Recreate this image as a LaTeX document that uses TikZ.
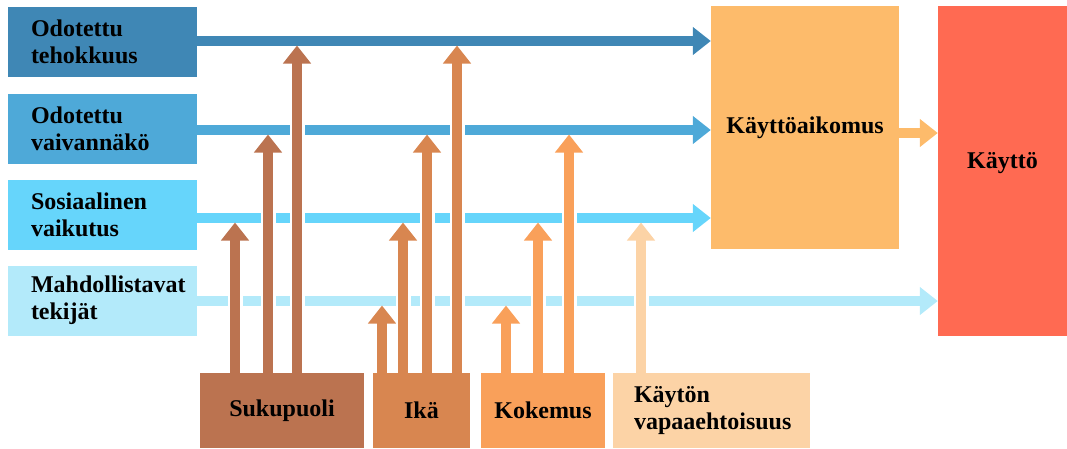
\documentclass[tikz,border=0pt]{standalone}
\usepackage{fontspec}
\setmainfont{Liberation Serif}
\usetikzlibrary{arrows.meta}
\definecolor{tehoc}{HTML}{3F87B5}
\definecolor{vaivac}{HTML}{4EA9D8}
\definecolor{sosc}{HTML}{66D5FB}
\definecolor{mahdc}{HTML}{B3EAFA}
\definecolor{sukuc}{HTML}{BB7350}
\definecolor{ikac}{HTML}{D88650}
\definecolor{kokc}{HTML}{F9A05A}
\definecolor{vapc}{HTML}{FCD3A6}
\definecolor{aikc}{HTML}{FDBB6B}
\definecolor{kayc}{HTML}{FF6A52}
\hfuzz=40pt

\begin{document}
\begin{tikzpicture}[x=1pt, y=-1pt]
  \tikzstyle{box} = [inner sep=0pt, font=\fontsize{24}{27}\selectfont\bfseries]
  \tikzstyle{leftbox} = [box, text width=143pt, inner xsep=23pt, minimum height=70pt, align=left]
  \tikzstyle{botbox} = [box, minimum height=75pt]
  \tikzstyle{harrow} = [line width=9.5pt, -{Triangle[width=27pt, length=18pt]}]
  \tikzstyle{varrow} = [line width=9.5pt, -{Triangle[width=27pt, length=18pt]}, shorten >=4.5pt,
    preaction={draw=white, line width=15pt, -}]
  \useasboundingbox (0,0) rectangle (1067,448);

  \node[leftbox, fill=tehoc] (teho) at (102.5, 42) {Odotettu\\tehokkuus};
  \node[leftbox, fill=vaivac] (vaiva) at (102.5, 129) {Odotettu\\vaivannäkö};
  \node[leftbox, fill=sosc] (sos) at (102.5, 214.5) {Sosiaalinen\\vaikutus};
  \node[leftbox, fill=mahdc] (mahd) at (102.5, 300.5) {Mahdollistavat\\tekijät};

  \node[box, fill=aikc, minimum width=188pt, minimum height=243pt] (aik) at (805, 127.5) {Käyttöaikomus};
  \node[box, fill=kayc, minimum width=129pt, minimum height=330pt, text depth=22pt] (kay) at (1002.5, 171) {Käyttö};

  \node[botbox, fill=sukuc, minimum width=164pt] (suku) at (282, 410.5) {Sukupuoli};
  \node[botbox, fill=ikac, minimum width=97pt] (ika) at (421.5, 410.5) {Ikä};
  \node[botbox, fill=kokc, minimum width=124pt] (kok) at (543, 410.5) {Kokemus};
  \node[botbox, fill=vapc, text width=155pt, inner xsep=21pt, align=left] (vap) at (711.5, 410.5) {Käytön\\vapaaehtoisuus};

  \coordinate (r1) at (0, 41);
  \coordinate (r2) at (0, 130);
  \coordinate (r3) at (0, 218);
  \coordinate (r4) at (0, 301);
  \coordinate (r5) at (0, 133);

  % horizontal arrows
  \draw[harrow, tehoc] (teho.east |- r1) -- (aik.west |- r1);
  \draw[harrow, vaivac] (vaiva.east |- r2) -- (aik.west |- r2);
  \draw[harrow, sosc] (sos.east |- r3) -- (aik.west |- r3);
  \draw[harrow, mahdc] (mahd.east |- r4) -- (kay.west |- r4);
  \draw[harrow, aikc] (aik.east |- r5) -- (kay.west |- r5);

  % moderators
  \draw[varrow, sukuc] ([xshift=-47pt]suku.north) -- ([xshift=-47pt]suku.north |- r3);
  \draw[varrow, sukuc] ([xshift=-14pt]suku.north) -- ([xshift=-14pt]suku.north |- r2);
  \draw[varrow, sukuc] ([xshift=15pt]suku.north) -- ([xshift=15pt]suku.north |- r1);
  \draw[varrow, ikac] ([xshift=-39.5pt]ika.north) -- ([xshift=-39.5pt]ika.north |- r4);
  \draw[varrow, ikac] ([xshift=-18.5pt]ika.north) -- ([xshift=-18.5pt]ika.north |- r3);
  \draw[varrow, ikac] ([xshift=5.5pt]ika.north) -- ([xshift=5.5pt]ika.north |- r2);
  \draw[varrow, ikac] ([xshift=35.5pt]ika.north) -- ([xshift=35.5pt]ika.north |- r1);
  \draw[varrow, kokc] ([xshift=-37pt]kok.north) -- ([xshift=-37pt]kok.north |- r4);
  \draw[varrow, kokc] ([xshift=-5pt]kok.north) -- ([xshift=-5pt]kok.north |- r3);
  \draw[varrow, kokc] ([xshift=26pt]kok.north) -- ([xshift=26pt]kok.north |- r2);
  \draw[varrow, vapc] ([xshift=-70.5pt]vap.north) -- ([xshift=-70.5pt]vap.north |- r3);
\end{tikzpicture}
\end{document}
